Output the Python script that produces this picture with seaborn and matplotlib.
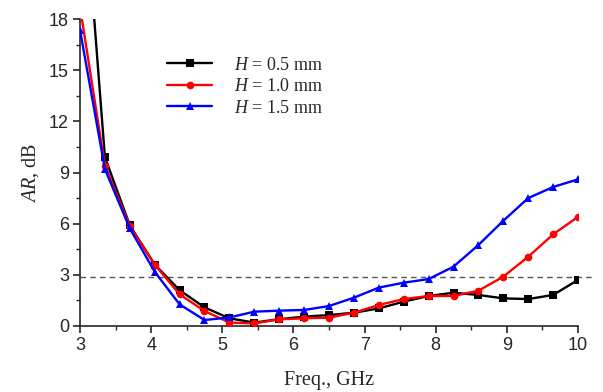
import numpy as np
import pandas as pd
import matplotlib
matplotlib.use("Agg")
import matplotlib.pyplot as plt
import seaborn as sns
from matplotlib.ticker import MultipleLocator

freq = [3.0, 3.35, 3.7, 4.05, 4.4, 4.75, 5.1, 5.45, 5.8, 6.15, 6.5, 6.85,
        7.2, 7.55, 7.9, 8.25, 8.6, 8.95, 9.3, 9.65, 10.0]
ar_05 = [28.8, 9.9, 5.9, 3.6, 2.1, 1.09, 0.45, 0.2, 0.4, 0.55, 0.64, 0.78,
         1.03, 1.43, 1.76, 1.95, 1.82, 1.62, 1.58, 1.82, 2.7]
ar_10 = [18.7, 9.4, 5.86, 3.6, 1.86, 0.88, 0.2, 0.15, 0.39, 0.45, 0.49, 0.78,
         1.23, 1.58, 1.76, 1.76, 2.07, 2.89, 4.06, 5.37, 6.4]
ar_15 = [17.35, 9.2, 5.72, 3.18, 1.27, 0.35, 0.5, 0.84, 0.9, 0.94, 1.17, 1.66,
         2.25, 2.54, 2.75, 3.48, 4.75, 6.17, 7.5, 8.15, 8.6]
labels = [r"$\mathit{H}$ = 0.5 mm", r"$\mathit{H}$ = 1.0 mm", r"$\mathit{H}$ = 1.5 mm"]
threshold = 2.9

df = pd.DataFrame({
    "freq": freq * 3,
    "ar": ar_05 + ar_10 + ar_15,
    "series": [labels[0]] * len(freq) + [labels[1]] * len(freq) + [labels[2]] * len(freq),
})

sns.set_style("ticks")
plt.rcParams["font.family"] = ["Liberation Sans", "DejaVu Sans"]
plt.rcParams["mathtext.fontset"] = "custom"
plt.rcParams["mathtext.it"] = "Liberation Serif:italic"
plt.rcParams["mathtext.rm"] = "Liberation Serif"

fig = plt.figure(figsize=(6.03, 3.92), dpi=100)
ax = fig.add_axes([80 / 603, 1 - 326 / 392, 498 / 603, 307 / 392])

ax.axhline(threshold, xmin=0, xmax=1.03, color="#555555", lw=1.0,
           ls=(0, (4, 3)), clip_on=False, zorder=1)

sns.lineplot(data=df, x="freq", y="ar", hue="series", style="series",
             palette=["#000000", "#ff0000", "#0000ff"],
             markers=["s", "o", "^"], dashes=False, lw=1.7,
             markersize=5.5, markeredgewidth=0, ax=ax, legend=True, zorder=3)

ax.set_xlim(3, 10)
ax.set_ylim(0, 18)
ax.xaxis.set_major_locator(MultipleLocator(1))
ax.xaxis.set_minor_locator(MultipleLocator(0.5))
ax.yaxis.set_major_locator(MultipleLocator(3))
ax.yaxis.set_minor_locator(MultipleLocator(1.5))
ax.tick_params(which="major", direction="out", length=5, width=1.2, labelsize=13, pad=3)
ax.tick_params(which="minor", direction="out", length=3, width=1.0)
for s in ["top", "right"]:
    ax.spines[s].set_visible(False)
for s in ["left", "bottom"]:
    ax.spines[s].set_linewidth(1.2)

ax.set_xlabel("Freq., GHz", fontfamily="Liberation Serif", fontsize=14.5, labelpad=12)
ax.set_ylabel(r"$\mathit{AR}$, dB", fontfamily="Liberation Serif", fontsize=14.5, labelpad=6)

leg = ax.legend(loc="upper left", bbox_to_anchor=(0.142, 0.93), frameon=False,
                handlelength=2.5, handletextpad=1.2, labelspacing=0.25,
                prop={"family": "Liberation Serif", "size": 13})

fig.savefig("out.png", dpi=100)
